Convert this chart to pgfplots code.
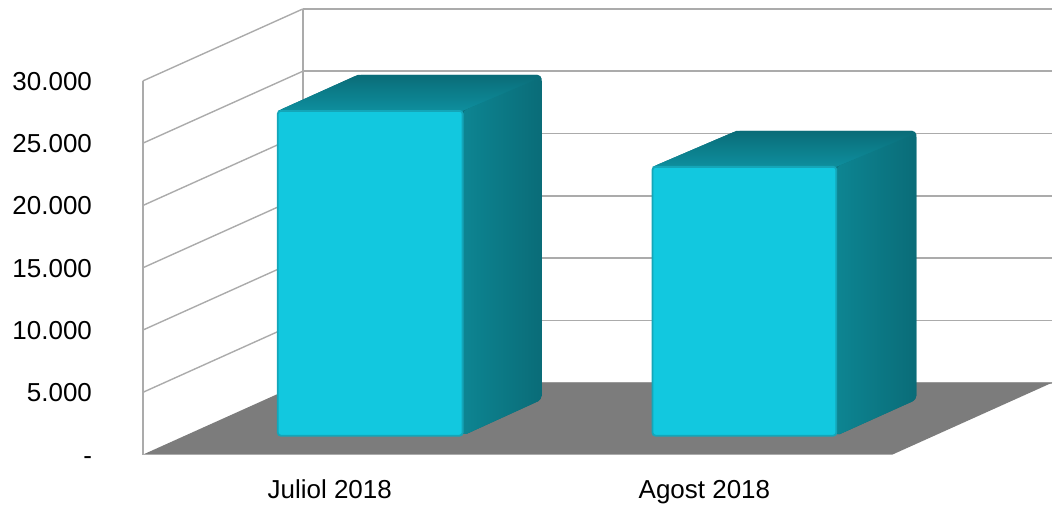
\documentclass[border=0pt]{standalone}
\usepackage{fontspec}
\setmainfont{Liberation Sans}
\usepackage{pgfplots}
\pgfplotsset{compat=1.18}
\definecolor{gridc}{HTML}{ABABAB}
\definecolor{floorc}{HTML}{7C7C7C}
\definecolor{frontc}{HTML}{12C8DF}
\definecolor{edgec}{HTML}{14A6B9}
\definecolor{sidea}{HTML}{0D8592}
\definecolor{sideb}{HTML}{0A6C78}
\definecolor{topa}{HTML}{0E8F9E}
\definecolor{topb}{HTML}{0A6C78}
\begin{document}
\begin{tikzpicture}
\begin{axis}[
  scale only axis, width=1053pt, height=505pt,
  xmin=0, xmax=1053, ymin=-4011, ymax=36497,
  scaled y ticks=false,
  axis line style={draw=none}, tick style={draw=none},
  clip=false,
  xtick={330,705}, xticklabels={Juliol 2018,Agost 2018},
  ytick={0,5000,10000,15000,20000,25000,30000},
  yticklabels={-{\hspace{6pt}},5.000,10.000,15.000,20.000,25.000,30.000},
  ticklabel style={font=\fontsize{26}{30}\selectfont},
  yticklabel style={anchor=east, xshift=92pt, yshift=-0.5pt, inner sep=0pt, outer sep=0pt, text height=18pt, text depth=0pt},
  xticklabel style={anchor=base, yshift=6pt, inner sep=0pt, outer sep=0pt},
  tick align=inside, major tick length=0pt,
]
% back wall grid
\addplot[gridc, line width=1.7pt] coordinates {(303,10775) (1053,10775)};
\addplot[gridc, line width=1.7pt] coordinates {(303,15775) (1053,15775)};
\addplot[gridc, line width=1.7pt] coordinates {(303,20775) (1053,20775)};
\addplot[gridc, line width=1.7pt] coordinates {(303,25775) (1053,25775)};
\addplot[gridc, line width=1.7pt] coordinates {(303,30775) (1053,30775)};
\addplot[gridc, line width=1.7pt] coordinates {(303,35775) (1053,35775)};
\addplot[gridc, line width=1.7pt] coordinates {(303,5775) (1053,5775)};
% side wall grid
\addplot[gridc, line width=1.4pt] coordinates {(143,5000) (303,10775)};
\addplot[gridc, line width=1.4pt] coordinates {(143,10000) (303,15775)};
\addplot[gridc, line width=1.4pt] coordinates {(143,15000) (303,20775)};
\addplot[gridc, line width=1.4pt] coordinates {(143,20000) (303,25775)};
\addplot[gridc, line width=1.4pt] coordinates {(143,25000) (303,30775)};
\addplot[gridc, line width=1.4pt] coordinates {(143,30000) (303,35775)};
\addplot[gridc, line width=1.7pt] coordinates {(143,0) (143,30000)};
\addplot[gridc, line width=1.7pt] coordinates {(303,5775) (303,35775)};
% floor
\addplot[draw=none, fill=floorc] coordinates {(143,0) (303,5775) (1053,5775) (893,0)} --cycle;
\addplot[gridc, line width=1.7pt] coordinates {(143,0) (893,0)};
% bar 1
\addplot[draw=none, fill=sideb, rounded corners=4pt] coordinates {(278,27594) (358,30481) (542,30481) (542,4412) (463,1524) (463,27594)} --cycle;
\addplot[draw=none, bottom color=topa, top color=topb] coordinates {(278,27594) (463,27594) (542,30200) (538,30481) (358,30481)} --cycle;
\addplot[draw=none, left color=sidea, right color=sideb, rounded corners=4pt] coordinates {(463,1524) (463,27594) (542,30300) (542,4412)} --cycle;
\addplot[edgec, line width=1.8pt, fill=frontc, rounded corners=3pt] coordinates {(278,1524) (278,27594) (463,27594) (463,1524)} --cycle;
% bar 2
\addplot[draw=none, fill=sideb, rounded corners=4pt] coordinates {(653,23102) (737,25989) (917,25989) (917,4412) (837,1524) (837,23102)} --cycle;
\addplot[draw=none, bottom color=topa, top color=topb] coordinates {(653,23102) (837,23102) (917,25700) (913,25989) (737,25989)} --cycle;
\addplot[draw=none, left color=sidea, right color=sideb, rounded corners=4pt] coordinates {(837,1524) (837,23102) (917,25800) (917,4412)} --cycle;
\addplot[edgec, line width=1.8pt, fill=frontc, rounded corners=3pt] coordinates {(653,1524) (653,23102) (837,23102) (837,1524)} --cycle;
\end{axis}
\end{tikzpicture}
\end{document}
